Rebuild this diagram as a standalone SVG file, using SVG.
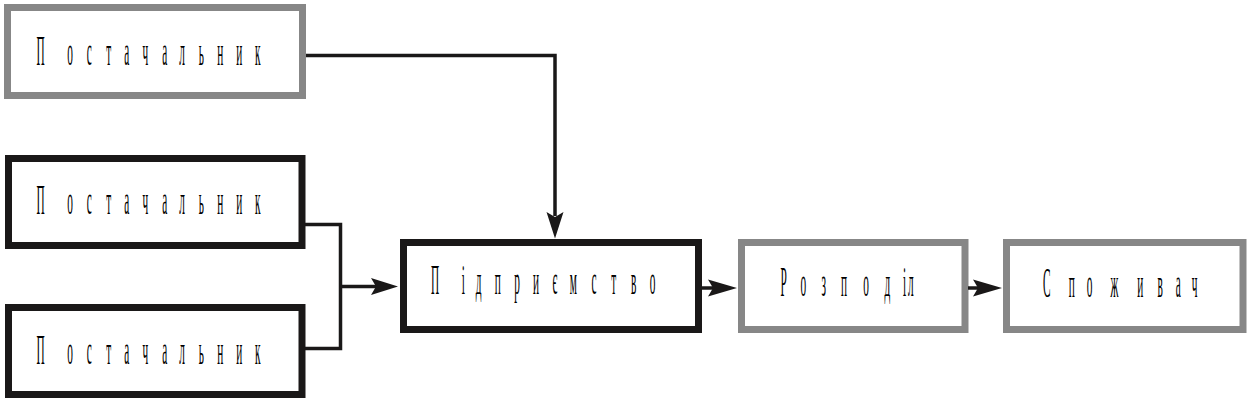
<svg xmlns="http://www.w3.org/2000/svg" width="1254" height="402" viewBox="0 0 1254 402">
<style>
.box{fill:#fff;stroke-width:7}
.gray{stroke:#878787}
.black{stroke:#1a1818}
.lbl{font-family:"Liberation Serif","DejaVu Serif",serif;font-size:42px;fill:#000;text-anchor:middle}
.con{fill:none;stroke:#1a1818;stroke-width:3.5}
.head{fill:#1a1818}
</style>
<rect width="1254" height="402" fill="#fff"/>
<g id="supplier1">
<rect class="box gray" x="7.5" y="7.5" width="295" height="88"/>
<text class="lbl" transform="scale(0.27 1)" y="65.5" x="150 259.3 330.4 402.6 469.3 538.1 610 674.1 745.6 815.9 885.9 954.4">Постачальник</text>
</g>
<g id="supplier2">
<rect class="box black" x="8.5" y="158.5" width="293.5" height="87"/>
<text class="lbl" transform="scale(0.27 1)" y="214.5" x="150 259.3 330.4 402.6 469.3 538.1 610 674.1 745.6 815.9 885.9 954.4">Постачальник</text>
</g>
<g id="supplier3">
<rect class="box black" x="8.5" y="307.5" width="293.5" height="87"/>
<text class="lbl" transform="scale(0.27 1)" y="364" x="150 259.3 330.4 402.6 469.3 538.1 610 674.1 745.6 815.9 885.9 954.4">Постачальник</text>
</g>
<g id="enterprise">
<rect class="box black" x="403.5" y="242.5" width="295" height="87"/>
<text class="lbl" transform="scale(0.27 1)" y="294.5" x="1611.1 1715.9 1773 1843.3 1914.8 1985.2 2055.6 2123.3 2200 2272.9 2347 2417.4">Підприємство</text>
</g>
<g id="distribution">
<rect class="box gray" x="741.5" y="242.5" width="223.5" height="87"/>
<text class="lbl" transform="scale(0.27 1)" y="296.5" x="2902.6 2975.2 3050.7 3125.9 3207.4 3286.3 3350.7 3373">Розподіл</text>
</g>
<g id="consumer">
<rect class="box gray" x="1006.5" y="242.5" width="236.5" height="87"/>
<text class="lbl" transform="scale(0.27 1)" y="297" x="3876.7 3969.3 4035.9 4127.8 4223.3 4297.4 4364.1 4424.1">Споживач</text>
</g>
<g id="connectors">
<path class="con" d="M306 55.5 H555 V216"/>
<path class="head" d="M555 238.5 L546.5 212 L555 217 L563.5 212 Z"/>
<path class="con" d="M305 224.5 H340.5 V348.5 H305 M340.5 286.5 H376"/>
<path class="head" d="M398 286.5 L371 278 L376 286.5 L371 295 Z"/>
<path class="con" d="M702 288 H713"/>
<path class="head" d="M737 288 L708 279.5 L713 288 L708 296.5 Z"/>
<path class="con" d="M968 288 H978"/>
<path class="head" d="M1002 288 L973 279.5 L978 288 L973 296.5 Z"/>
</g>
</svg>
